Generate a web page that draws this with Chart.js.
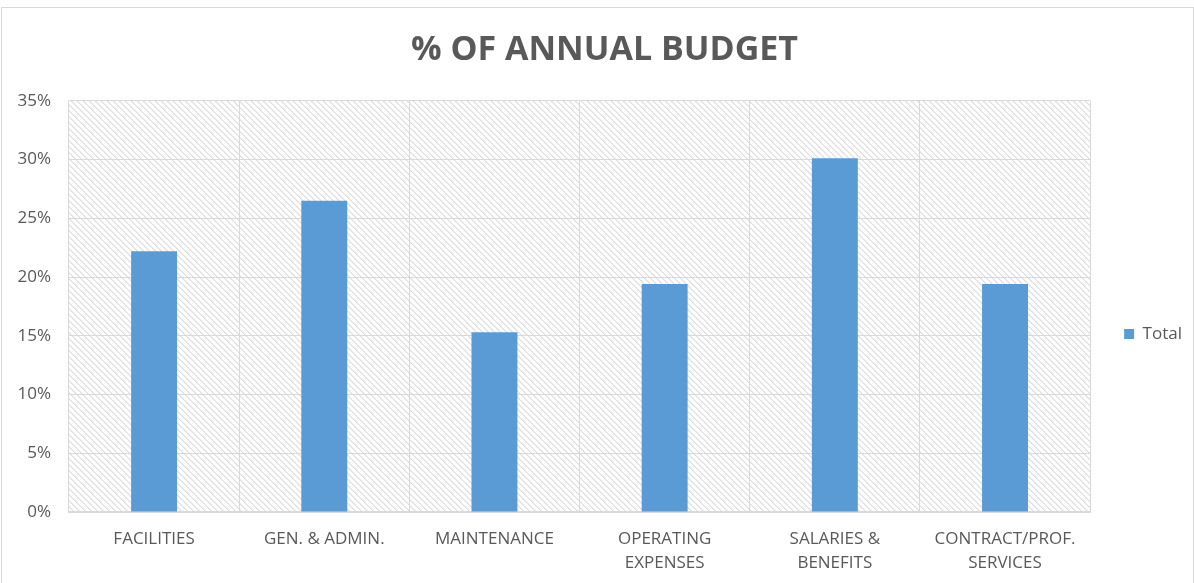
<!DOCTYPE html>
<html>
<head>
<meta charset="utf-8">
<script src="https://cdn.jsdelivr.net/npm/chart.js@4/dist/chart.umd.min.js"></script>
<style>
  body { margin: 0; background: #fff; }
  #wrap { position: absolute; left: 1px; top: 7px; width: 1191px; height: 580px; border: 1px solid #d9d9d9; }
</style>
</head>
<body>
<div id="wrap"><canvas id="chart"></canvas></div>
<script>
const categories = [
  "FACILITIES",
  "GEN. & ADMIN.",
  "MAINTENANCE",
  ["OPERATING", "EXPENSES"],
  ["SALARIES &", "BENEFITS"],
  ["CONTRACT/PROF.", "SERVICES"]
];
const totals = [22.2, 26.5, 15.3, 19.4, 30.1, 19.4];
const yMax = 35;
const yStep = 5;

// diagonal hatch for the plot area, drawn pixel by pixel so it stays crisp
function makeHatch() {
  const c = document.createElement("canvas");
  c.width = 6; c.height = 6;
  const g = c.getContext("2d");
  g.fillStyle = "#dcdcdc";
  for (let i = 0; i < 6; i++) g.fillRect(i, i, 1, 1);
  g.fillStyle = "#eeeeee";
  for (let i = 0; i < 6; i++) g.fillRect((i + 1) % 6, i, 1, 1);
  return g.createPattern(c, "repeat");
}

const hatchPlugin = {
  id: "hatch",
  beforeDraw(chart) {
    const a = chart.chartArea;
    const ctx = chart.ctx;
    ctx.save();
    ctx.fillStyle = makeHatch();
    ctx.fillRect(a.left, a.top, a.right - a.left, a.bottom - a.top);
    ctx.restore();
  }
};

const chart = new Chart(document.getElementById("chart"), {
  type: "bar",
  data: {
    labels: categories,
    datasets: [{
      label: "Total",
      data: totals,
      backgroundColor: "#5b9bd5",
      categoryPercentage: 1,
      barPercentage: 0.27
    }]
  },
  options: {
    responsive: true,
    maintainAspectRatio: false,
    animation: false,
    layout: { padding: { left: 15, right: 1, top: 0, bottom: 14 } },
    plugins: {
      title: {
        display: true,
        text: "% OF ANNUAL BUDGET",
        color: "#595959",
        font: { family: "'Open Sans', sans-serif", size: 34, weight: "bold", lineHeight: 1.2 },
        padding: { top: 22, bottom: 30 }
      },
      legend: {
        position: "right",
        // empty title only pushes the entry down to where it sits in the original
        title: { display: true, text: " ", font: { size: 10, lineHeight: 1 }, padding: { top: 38, bottom: 38 } },
        labels: {
          color: "#595959",
          font: { family: "'Open Sans', sans-serif", size: 17 },
          boxWidth: 10,
          boxHeight: 10,
          padding: 34
        }
      },
      tooltip: { enabled: false }
    },
    scales: {
      x: {
        afterFit: s => { s.height = 62; },
        grid: { color: "#d9d9d9", lineWidth: 1, drawTicks: false, offset: true },
        border: { color: "#d9d9d9", width: 2 },
        ticks: {
          color: "#595959",
          font: { family: "'Open Sans', sans-serif", size: 17, lineHeight: 1.4 },
          padding: 15,
          maxRotation: 0,
          autoSkip: false
        }
      },
      y: {
        min: 0,
        max: yMax,
        afterFit: s => { s.width = 52; },
        grid: { color: "#d9d9d9", lineWidth: 1, drawTicks: false },
        border: { display: false },
        ticks: {
          stepSize: yStep,
          color: "#595959",
          font: { family: "'Open Sans', sans-serif", size: 17 },
          padding: 18,
          callback: v => v + "%"
        }
      }
    }
  },
  plugins: [hatchPlugin]
});
</script>
</body>
</html>
